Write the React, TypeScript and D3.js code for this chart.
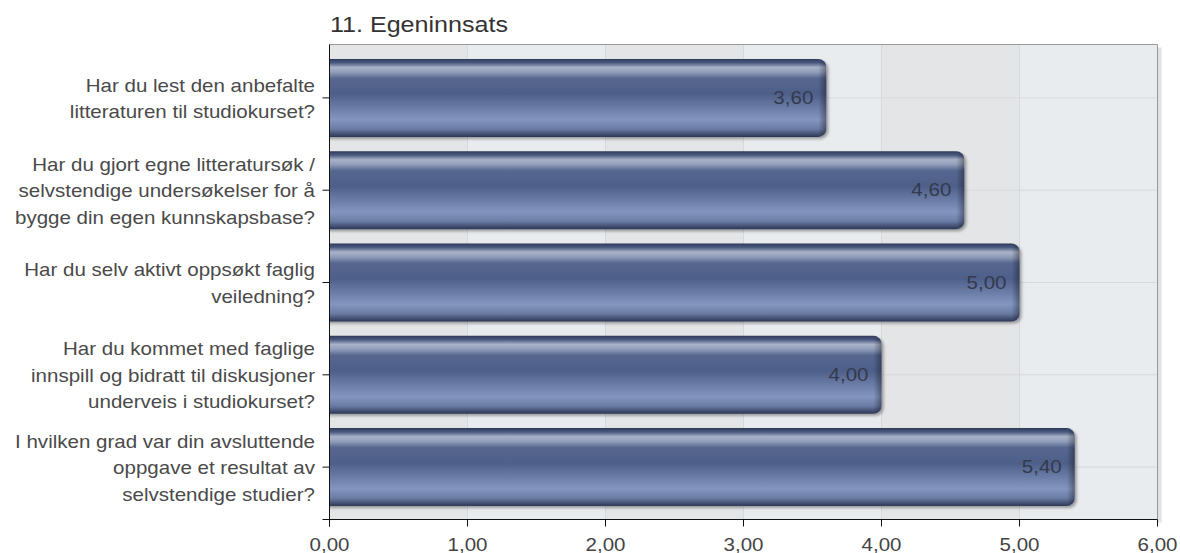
import React from "react";
import * as d3 from "d3";

const title = "11. Egeninnsats";
const categories = [
  "Har du lest den anbefalte|litteraturen til studiokurset?",
  "Har du gjort egne litteratursøk /|selvstendige undersøkelser for å|bygge din egen kunnskapsbase?",
  "Har du selv aktivt oppsøkt faglig|veiledning?",
  "Har du kommet med faglige|innspill og bidratt til diskusjoner|underveis i studiokurset?",
  "I hvilken grad var din avsluttende|oppgave et resultat av|selvstendige studier?",
];
const values = [3.6, 4.6, 5.0, 4.0, 5.4];
const xTicks = [0, 1, 2, 3, 4, 5, 6];

const W = 1180, H = 553;
const left = 329.5, right = 1157.5, top = 44.5, bottom = 519.5;
const SX = 1.14;

function T(props: { x: number; y: number; size: number; fill: string; anchor?: string; children: React.ReactNode }) {
  return (
    <text transform={`translate(${props.x},${props.y}) scale(${SX},1)`} fontSize={props.size} fill={props.fill} textAnchor={props.anchor || "start"}>
      {props.children}
    </text>
  );
}

export default function App() {
  const x = d3.scaleLinear().domain([0, 6]).range([left, right]);
  const y = d3.scaleBand<number>().domain(d3.range(categories.length)).range([top + 7, bottom - 6]).paddingInner(0.155).paddingOuter(0.08);
  const step = y.step();
  const fmt = (v: number) => v.toFixed(2).replace(".", ",");
  const font = "Arial, 'Liberation Sans', Helvetica, sans-serif";
  return (
    <svg width={W} height={H} style={{ position: "absolute", left: 0, top: 0, background: "#fff" }} fontFamily={font}>
      <defs>
        <linearGradient id="barg" x1="0" y1="0" x2="0" y2="1">
          <stop offset="0" stopColor="#2f3b59" />
          <stop offset="0.05" stopColor="#4a5a80" />
          <stop offset="0.11" stopColor="#a8b2c8" />
          <stop offset="0.17" stopColor="#929eba" />
          <stop offset="0.25" stopColor="#56678f" />
          <stop offset="0.45" stopColor="#4e5f89" />
          <stop offset="0.78" stopColor="#8496c0" />
          <stop offset="0.9" stopColor="#6a7ba3" />
          <stop offset="1" stopColor="#2c3654" />
        </linearGradient>
        <linearGradient id="barEnd" x1="0" y1="0" x2="1" y2="0">
          <stop offset="0" stopColor="#000" stopOpacity="0" />
          <stop offset="1" stopColor="#000" stopOpacity="0.35" />
        </linearGradient>
        <linearGradient id="sep" x1="0" y1="0" x2="1" y2="0">
          <stop offset="0" stopColor="#f4f4f4" />
          <stop offset="0.5" stopColor="#a8a8a8" />
          <stop offset="1" stopColor="#d0d0d0" />
        </linearGradient>
        <clipPath id="plotClip">
          <rect x={left} y={top} width={right - left + 10} height={bottom - top} />
        </clipPath>
        <filter id="shadow" x="-5%" y="-10%" width="110%" height="130%">
          <feGaussianBlur in="SourceAlpha" stdDeviation="1.5" />
          <feOffset dx="2" dy="2" result="b" />
          <feComponentTransfer><feFuncA type="linear" slope="0.35" /></feComponentTransfer>
          <feMerge><feMergeNode /><feMergeNode in="SourceGraphic" /></feMerge>
        </filter>
      </defs>
      <T x={330} y={32} size={22} fill="#333">{title}</T>
      {/* plot background */}
      <rect x={right} y={top + 3} width={4} height={bottom - top} fill="#e2e2e2" />
      {xTicks.slice(0, -1).map((t, i) => (
        <rect key={"bg" + t} x={x(t)} y={top} width={x(t + 1) - x(t)} height={bottom - top} fill={i % 2 === 0 ? "#e4e5e7" : "#e9ecef"} />
      ))}
      {xTicks.slice(1, -1).map((t) => (
        <line key={"gv" + t} x1={x(t)} x2={x(t)} y1={top} y2={bottom} stroke="#d6d8db" strokeWidth={1} />
      ))}
      {categories.map((_, i) => (
        <line key={"gh" + i} x1={left} x2={right} y1={y(i)! + y.bandwidth() / 2} y2={y(i)! + y.bandwidth() / 2} stroke="#d6d8db" strokeWidth={1} />
      ))}
      <line x1={left} x2={right} y1={top} y2={top} stroke="#999" />
      <line x1={right} x2={right} y1={top} y2={bottom} stroke="#999" />
      {/* bars */}
      <g clipPath="url(#plotClip)">
        {values.map((v, i) => {
          const by = y(i)!;
          const bh = y.bandwidth();
          const w = x(v) - x(0);
          return (
            <g key={"bar" + i} filter="url(#shadow)">
              <rect x={x(0) - 10} y={by} width={w + 10} height={bh} rx={8} ry={8} fill="url(#barg)" />
              <rect x={x(v) - 8} y={by + 2} width={8} height={bh - 4} rx={6} fill="url(#barEnd)" />
            </g>
          );
        })}
      </g>
      {values.map((v, i) => (
        <T key={"vl" + i} x={x(v) - 13} y={y(i)! + y.bandwidth() / 2 + 6} size={18} fill="#333a4d" anchor="end">{fmt(v)}</T>
      ))}
      {/* axes */}
      <line x1={left} x2={left} y1={top} y2={bottom + 7} stroke="#111" />
      <line x1={left - 7} x2={right} y1={bottom} y2={bottom} stroke="#111" />
      {xTicks.map((t) => (
        <g key={"xt" + t}>
          <line x1={x(t)} x2={x(t)} y1={bottom} y2={bottom + 7} stroke="#111" />
          <T x={x(t)} y={bottom + 31} size={18} fill="#444" anchor="middle">{fmt(t)}</T>
        </g>
      ))}
      {categories.map((c, i) => {
        const cy = y(i)! + y.bandwidth() / 2;
        const lines = c.split("|");
        const lh = 26.5;
        return (
          <g key={"cl" + i}>
            <line x1={left - 7} x2={left} y1={cy} y2={cy} stroke="#111" />
            {lines.map((l, j) => (
              <T key={j} x={315} y={cy + (j - (lines.length - 1) / 2) * lh + 7} size={18} fill="#4a4a4a" anchor="end">{l}</T>
            ))}
            {i > 0 && (
              <line x1={10} x2={322} y1={Math.round(y(i)! - (step - y.bandwidth()) / 2) + 0.5} y2={Math.round(y(i)! - (step - y.bandwidth()) / 2) + 0.5} stroke="url(#sep)" />
            )}
          </g>
        );
      })}
    </svg>
  );
}
